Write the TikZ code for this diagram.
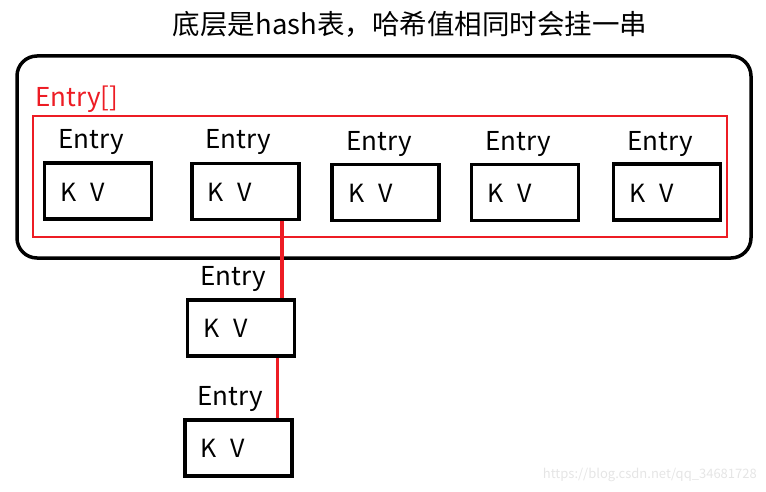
\documentclass[tikz,border=0pt]{standalone}
\usepackage{fontspec}
\setmainfont{Noto Sans CJK SC}
\usetikzlibrary{calc}
\definecolor{myred}{HTML}{ED1C24}
\tikzset{
  kvbox/.style={draw=black,line width=3.8pt,minimum width=107pt,minimum height=56pt,inner sep=0pt},
  lbl/.style={anchor=base west,inner sep=0pt,font=\fontsize{26}{30}\selectfont},
  kv/.style={anchor=base west,inner sep=0pt,font=\fontsize{25}{30}\selectfont},
  link/.style={draw=myred,line width=3.5pt},
}
\newcommand{\kvtext}{K\hspace{0.55em}V}
\begin{document}
\begin{tikzpicture}[x=1pt,y=-1pt]
\useasboundingbox (0,0) rectangle (766,492);
\node[font=\fontsize{27.5}{32}\selectfont,inner sep=0pt] (title) at (410,24) {底层是hash表，哈希值相同时会挂一串};
\draw[line width=3.5pt,rounded corners=20pt] (17,56) rectangle (751,258);
\node[lbl,text=myred] (arr) at (35,107) {Entry[]};
\draw[draw=myred,line width=1.2pt] (33,116) rectangle (727,237);
\node[kvbox] (b1) at (98,191) {};
\node[kvbox] (b2) at (245.5,191.5) {};
\node[kvbox] (b3) at (385.5,192.5) {};
\node[kvbox] (b4) at (525,192.5) {};
\node[kvbox] (b5) at (667,192) {};
\node[kvbox] (b6) at (241,328) {};
\node[kvbox] (b7) at (238.5,448) {};
\node[lbl] (e1) at (58,149) {Entry};
\node[lbl] (e2) at (205,149) {Entry};
\node[lbl] (e3) at (346,150) {Entry};
\node[lbl] (e4) at (485,150) {Entry};
\node[lbl] (e5) at (627,150) {Entry};
\node[lbl] (e6) at (200,285) {Entry};
\node[lbl] (e7) at (197,405) {Entry};
\node[kv] (k1) at (60,201) {\kvtext};
\node[kv] (k2) at (207,201) {\kvtext};
\node[kv] (k3) at (348,202) {\kvtext};
\node[kv] (k4) at (487,202) {\kvtext};
\node[kv] (k5) at (629,202) {\kvtext};
\node[kv] (k6) at (203,337) {\kvtext};
\node[kv] (k7) at (200,457) {\kvtext};
\draw[link] ([xshift=-19pt]b2.south east) -- ([xshift=-19pt]b2.south east |- b6.north);
\draw[link] ([xshift=-19pt]b6.south east) -- ([xshift=-19pt]b6.south east |- b7.north);
\node[font=\fontsize{13}{15}\selectfont,text=black!10,anchor=base east,inner sep=0pt] (wm) at (757,478) {https://blog.csdn.net/qq\_34681728};
\end{tikzpicture}
\end{document}
